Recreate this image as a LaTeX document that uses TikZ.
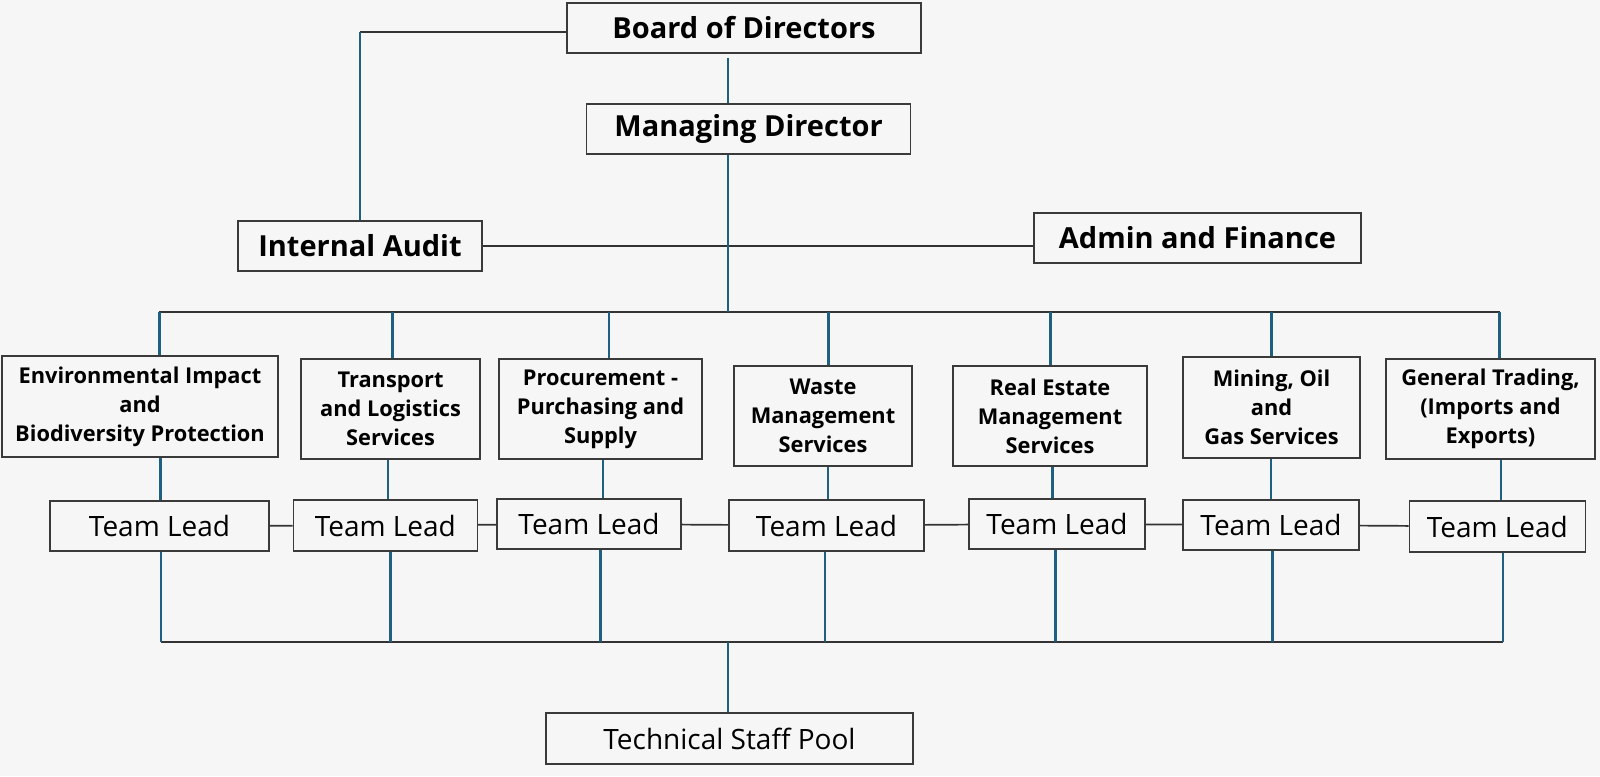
\documentclass[tikz,border=0pt]{standalone}
\usepackage{fontspec}
\setmainfont{Open Sans}
\definecolor{bgc}{HTML}{F6F6F6}
\definecolor{vblue}{HTML}{1F5F80}
\definecolor{hgray}{HTML}{333333}
\definecolor{boxc}{HTML}{3A3A3A}
\begin{document}
\begin{tikzpicture}[x=0.5pt,y=-0.5pt,
  box/.style={draw=boxc,line width=0.8pt,fill=bgc,inner sep=0pt,align=center,text=black},
  bigbox/.style={box,font=\bfseries\fontsize{14.5}{17}\selectfont},
  deptbox/.style={box,font=\bfseries\fontsize{10.9}{14.5}\selectfont},
  leadbox/.style={box,font=\fontsize{14}{17}\selectfont},
  vline/.style={draw=vblue,line width=1.3pt},
  hline/.style={draw=hgray,line width=0.85pt}]
\useasboundingbox (0,0) rectangle (1600,776);
\fill[bgc] (0,0) rectangle (1600,776);
% top level
\node[bigbox,minimum width=177pt,minimum height=25pt] (board) at (744,28) {Board of Directors};
\node[bigbox,minimum width=162pt,minimum height=25pt] (md) at (748.6,128.9) {Managing Director};
\node[bigbox,minimum width=122pt,minimum height=25pt] (audit) at (360,245.8) {Internal Audit};
\node[bigbox,minimum width=163.5pt,minimum height=25pt] (admin) at (1197.5,238) {Admin and Finance};
% departments
\node[deptbox,minimum width=138pt,minimum height=50.5pt] (d1) at (140,406.5) {Environmental Impact\\and\\Biodiversity Protection};
\node[deptbox,minimum width=89.5pt,minimum height=50pt] (d2) at (390.5,409) {Transport\\and Logistics\\Services};
\node[deptbox,minimum width=101.5pt,minimum height=50pt] (d3) at (600.5,409) {Procurement -\\Purchasing and\\Supply};
\node[deptbox,minimum width=89pt,minimum height=50pt] (d4) at (823,416) {Waste\\Management\\Services};
\node[deptbox,minimum width=97pt,minimum height=50pt] (d5) at (1050,416) {Real Estate\\Management\\Services};
\node[deptbox,minimum width=88.5pt,minimum height=50.5pt] (d6) at (1271.5,407.5) {Mining, Oil\\and\\Gas Services};
\node[deptbox,minimum width=104.5pt,minimum height=50pt] (d7) at (1490.5,409) {General Trading,\\(Imports and\\Exports)};
% team leads
\node[leadbox,minimum width=109.5pt,minimum height=25pt] (l1) at (159.5,526) {Team Lead};
\node[leadbox,minimum width=92pt,minimum height=25.5pt] (l2) at (385.3,525.5) {Team Lead};
\node[leadbox,minimum width=92pt,minimum height=25pt] (l3) at (589,524) {Team Lead};
\node[leadbox,minimum width=97.5pt,minimum height=25.5pt] (l4) at (826.5,525.5) {Team Lead};
\node[leadbox,minimum width=88pt,minimum height=25pt] (l5) at (1057,524) {Team Lead};
\node[leadbox,minimum width=88pt,minimum height=25pt] (l6) at (1271,525) {Team Lead};
\node[leadbox,minimum width=88pt,minimum height=25.5pt] (l7) at (1497.3,526.5) {Team Lead};
% pool
\node[leadbox,minimum width=183.5pt,minimum height=25.5pt] (tsp) at (729.5,738.5) {Technical Staff Pool};
% bus coordinates
\coordinate (ac) at (360,32);
\coordinate (mdbus) at (728,312);
\coordinate (t1) at (159.3,312);
\coordinate (t2) at (392.6,312);
\coordinate (t3) at (608.8,312);
\coordinate (t4) at (828.6,312);
\coordinate (t5) at (1050.7,312);
\coordinate (t6) at (1271.2,312);
\coordinate (t7) at (1499.6,312);
\coordinate (m1) at (160.7,480);
\coordinate (m2) at (388,480);
\coordinate (m3) at (603,480);
\coordinate (m4) at (828,480);
\coordinate (m5) at (1052.5,480);
\coordinate (m6) at (1271,480);
\coordinate (m7) at (1500.8,480);
\coordinate (b1) at (161,642.3);
\coordinate (b2) at (390.4,642.3);
\coordinate (b3) at (600.3,642.3);
\coordinate (b4) at (825,642.3);
\coordinate (b5) at (1055.2,642.3);
\coordinate (b6) at (1272.5,642.3);
\coordinate (b7) at (1502.8,642.3);
\coordinate (bt) at (728,642.3);
% horizontal connectors
\draw[hline] (ac) -- (ac -| board.west);
\draw[hline] (audit.east) -- (audit.east -| admin.west);
\draw[hline] (t1) -- (t7);
\draw[hline] (b1) -- (b7);
\draw[hline] (l1) -- (l2);
\draw[hline] (l2) -- (l3);
\draw[hline] (l3) -- (l4);
\draw[hline] (l4) -- (l5);
\draw[hline] (l5) -- (l6);
\draw[hline] (l6) -- (l7);
% vertical connectors
\draw[vline] (ac) -- (audit.north);
\draw[vline] ([yshift=-2pt]board.south -| mdbus) -- (md.north -| mdbus);
\draw[vline] (md.south -| mdbus) -- (mdbus);
\foreach \i in {1,...,7}{
  \draw[vline] (t\i) -- (d\i.north -| t\i);
  \draw[vline] (d\i.south -| m\i) -- (l\i.north -| m\i);
  \draw[vline] (l\i.south -| b\i) -- (b\i);
}
\draw[vline] (bt) -- (tsp.north -| bt);
\end{tikzpicture}
\end{document}
